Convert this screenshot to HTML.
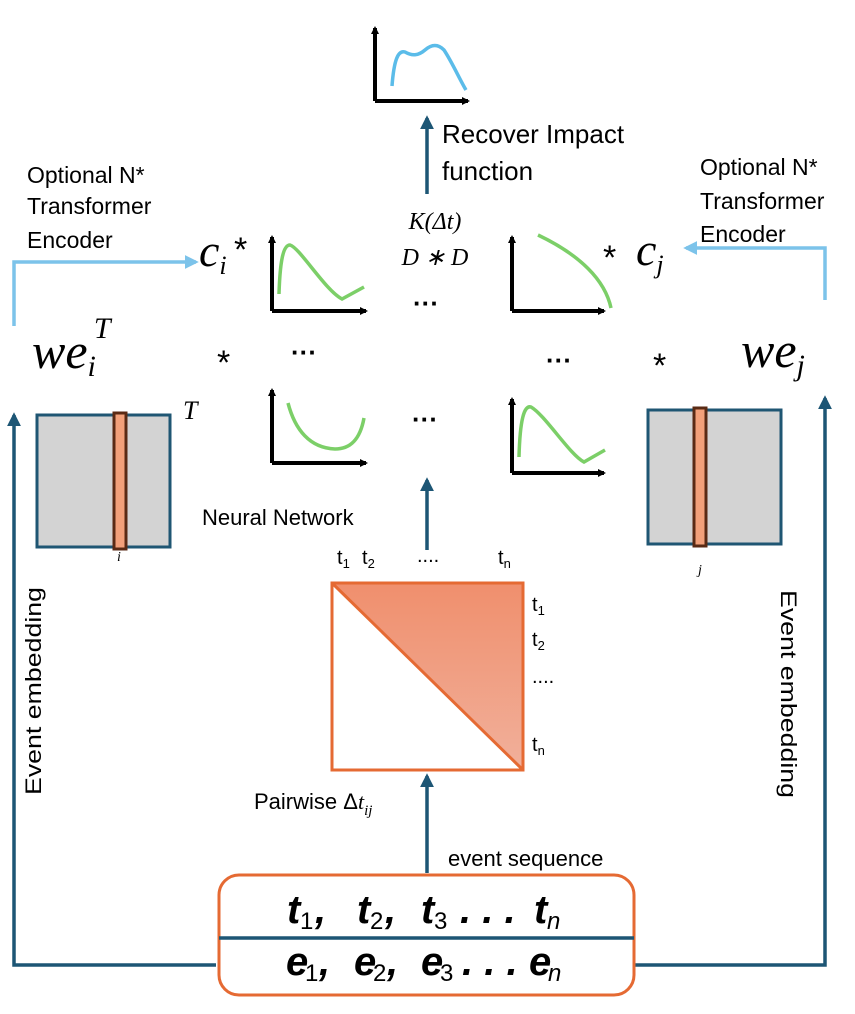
<!DOCTYPE html>
<html><head><meta charset="utf-8"><style>
html,body{margin:0;padding:0;background:#fff}
svg text{font-family:"Liberation Sans",sans-serif}
.m{font-family:"Liberation Serif",serif;font-style:italic}
</style></head><body>
<svg width="855" height="1009" viewBox="0 0 855 1009" xmlns="http://www.w3.org/2000/svg">
<defs>
<marker id="ab" markerWidth="8" markerHeight="8" refX="6" refY="4" orient="auto" markerUnits="userSpaceOnUse"><path d="M0,0 L8,4 L0,8 z" fill="#000"/></marker>
<marker id="db" viewBox="0 0 10 10" markerWidth="14" markerHeight="14" refX="8" refY="5" orient="auto" markerUnits="userSpaceOnUse"><path d="M0,0 L10,5 L0,10 z" fill="#1d5675"/></marker>
<marker id="lb" viewBox="0 0 10 10" markerWidth="14" markerHeight="14" refX="8" refY="5" orient="auto" markerUnits="userSpaceOnUse"><path d="M0,0 L10,5 L0,10 z" fill="#7cc3ea"/></marker>
<linearGradient id="g" x1="0" y1="0" x2="0" y2="1"><stop offset="0" stop-color="#f08f6d"/><stop offset="1" stop-color="#f1b09b"/></linearGradient>
</defs>
<g stroke="#000" stroke-width="4" fill="none">
<path d="M375,101 V28" marker-end="url(#ab)"/><path d="M375,101 H468" marker-end="url(#ab)"/>
<path d="M272,311 V237" marker-end="url(#ab)"/><path d="M272,311 H366" marker-end="url(#ab)"/>
<path d="M512,311 V237" marker-end="url(#ab)"/><path d="M512,311 H604" marker-end="url(#ab)"/>
<path d="M272,463 V390" marker-end="url(#ab)"/><path d="M272,463 H366" marker-end="url(#ab)"/>
<path d="M512,473 V399" marker-end="url(#ab)"/><path d="M512,473 H604" marker-end="url(#ab)"/>
</g>
<path d="M392,86 C394,60 398,50 405,52 C412,56 418,56 425,50 C432,44 438,44 444,50 C452,62 460,80 466,90" stroke="#5bbce9" stroke-width="3.5" fill="none"/>
<g stroke="#7ccf68" stroke-width="3.5" fill="none">
<path d="M279,294 C280,262 283,245 290,245 C300,248 325,290 342,299 L364,287"/>
<path d="M538,235 C580,255 605,280 611,308"/>
<path d="M288,403 C295,430 310,448 335,449 C350,449 360,440 364,418"/>
<path d="M519,457 C520,420 524,405 531,407 C545,415 570,455 584,462 L605,450"/>
</g>
<g stroke="#1d5675" stroke-width="3.5" fill="none">
<path d="M427,194 V118" marker-end="url(#db)"/>
<path d="M427,550 V480" marker-end="url(#db)"/>
<path d="M427,873 V776" marker-end="url(#db)"/>
<path d="M216,965 H14 V415" marker-end="url(#db)"/>
<path d="M634,965 H825 V398" marker-end="url(#db)"/>
</g>
<g stroke="#7cc3ea" stroke-width="3.5" fill="none">
<path d="M14,326 V262 H196" marker-end="url(#lb)"/>
<path d="M825,300 V248 H686" marker-end="url(#lb)"/>
</g>
<rect x="37" y="415" width="133" height="132" fill="#d3d3d3" stroke="#1f5673" stroke-width="3"/>
<rect x="114" y="413" width="12" height="136" fill="#f2a07a" stroke="#5a2a14" stroke-width="3"/>
<rect x="648" y="410" width="133" height="134" fill="#d3d3d3" stroke="#1f5673" stroke-width="3"/>
<rect x="694" y="408" width="12" height="138" fill="#f2a07a" stroke="#5a2a14" stroke-width="3"/>
<path d="M332,583 H523 V770 z" fill="url(#g)"/>
<rect x="332" y="583" width="191" height="187" fill="none" stroke="#e56a33" stroke-width="3"/>
<path d="M332,583 L523,770" stroke="#e56a33" stroke-width="3"/>
<rect x="219" y="875" width="415" height="120" rx="20" fill="#fff" stroke="#e56a33" stroke-width="3"/>
<path d="M219,938 H634" stroke="#1d5675" stroke-width="3.5"/>
<g font-size="26" fill="#000">
<text x="442" y="143">Recover Impact</text><text x="442" y="180">function</text>
</g>
<g font-size="23" fill="#000">
<text x="27" y="183">Optional N*</text><text x="27" y="214">Transformer</text><text x="27" y="248">Encoder</text>
<text x="700" y="175">Optional N*</text><text x="700" y="209">Transformer</text><text x="700" y="242">Encoder</text>
</g>
<text class="m" x="435" y="229" font-size="24" text-anchor="middle">K(Δt)</text>
<text class="m" x="435" y="265" font-size="24" text-anchor="middle">D ∗ D</text>
<text class="m" x="199" y="266" font-size="46">c<tspan font-size="26" dy="8">i</tspan></text>
<text x="234" y="261" font-size="34">*</text>
<text x="603" y="269" font-size="34">*</text>
<text class="m" x="636" y="265" font-size="46">c<tspan font-size="26" dy="8">j</tspan></text>
<text class="m" x="32" y="368" font-size="50">we<tspan font-size="30" dy="8">i</tspan><tspan font-size="30" dy="-38" dx="-2">T</tspan></text>
<text x="217" y="374" font-size="34">*</text>
<text x="653" y="377" font-size="34">*</text>
<text class="m" x="741" y="367" font-size="50">we<tspan font-size="30" dy="8">j</tspan></text>
<text class="m" x="183" y="419" font-size="26">T</text>
<g font-size="26" font-weight="bold" text-anchor="middle">
<text x="426" y="312">···</text><text x="304" y="361">···</text><text x="559" y="369">···</text><text x="425" y="428">···</text>
</g>
<text x="202" y="525" font-size="22">Neural Network</text>
<text class="m" x="117" y="561" font-size="14">i</text>
<text class="m" x="698" y="574" font-size="14">j</text>
<g font-size="20">
<text x="337" y="564">t<tspan font-size="13" dy="4">1</tspan></text>
<text x="362" y="564">t<tspan font-size="13" dy="4">2</tspan></text>
<text x="417" y="562">....</text>
<text x="498" y="564">t<tspan font-size="13" dy="4">n</tspan></text>
<text x="532" y="611">t<tspan font-size="13" dy="4">1</tspan></text>
<text x="532" y="646">t<tspan font-size="13" dy="4">2</tspan></text>
<text x="532" y="683">....</text>
<text x="532" y="751">t<tspan font-size="13" dy="4">n</tspan></text>
</g>
<text x="254" y="809" font-size="22">Pairwise Δ<tspan class="m">t</tspan><tspan class="m" font-size="15" dy="6">ij</tspan></text>
<text x="448" y="866" font-size="22">event sequence</text>
<g class="m" font-size="40" font-weight="bold">
<text x="287" y="923">t</text><text x="300" y="929" font-size="24" font-weight="normal" font-style="normal">1</text><text x="315" y="923">,</text>
<text x="357" y="923">t</text><text x="370" y="929" font-size="24" font-weight="normal" font-style="normal">2</text><text x="385" y="923">,</text>
<text x="421" y="923">t</text><text x="434" y="929" font-size="24" font-weight="normal" font-style="normal">3</text>
<text x="460" y="923">. . .</text>
<text x="534" y="923">t</text><text x="547" y="929" font-size="24" font-weight="normal">n</text>
<text x="286" y="975">e</text><text x="305" y="981" font-size="24" font-weight="normal" font-style="normal">1</text><text x="319" y="975">,</text>
<text x="354" y="975">e</text><text x="373" y="981" font-size="24" font-weight="normal" font-style="normal">2</text><text x="387" y="975">,</text>
<text x="421" y="975">e</text><text x="440" y="981" font-size="24" font-weight="normal" font-style="normal">3</text>
<text x="462" y="975">. . .</text>
<text x="529" y="975">e</text><text x="548" y="981" font-size="24" font-weight="normal">n</text>
</g>
<text x="0" y="0" font-size="22" textLength="208" lengthAdjust="spacingAndGlyphs" transform="translate(41,691) rotate(-90)" text-anchor="middle">Event embedding</text>
<text x="0" y="0" font-size="22" textLength="208" lengthAdjust="spacingAndGlyphs" transform="translate(781,694) rotate(90)" text-anchor="middle">Event embedding</text>
</svg>
</body></html>
